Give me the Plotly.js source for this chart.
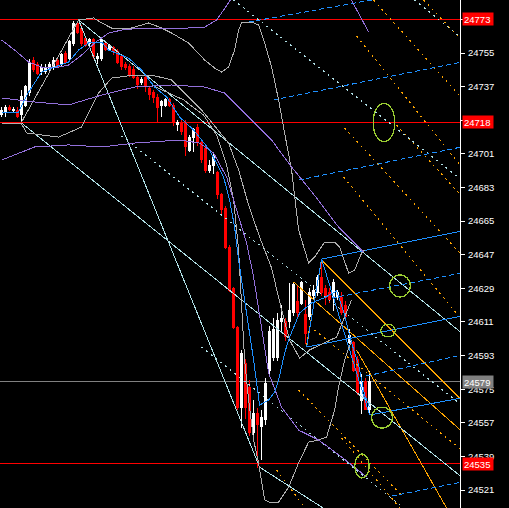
<!DOCTYPE html>
<html><head><meta charset="utf-8">
<script src="https://cdn.plot.ly/plotly-3.0.1.min.js"></script>
<style>html,body{margin:0;padding:0;background:#000;overflow:hidden}
#chart .scatterlayer path,#chart .shapelayer path,#chart .boxlayer path,#chart .yaxislayer-above path,#chart .ylines-above{shape-rendering:crispEdges}</style>
</head><body><div id="chart" style="width:509px;height:508px"></div>
<script>
// ---- candles (bar index, OHLC prices) ----
const barIdx = Array.from({length:93},(_,i)=>i);
const openP  = [24722,24723,24726,24724,24724,24722,24727,24734,24751,24749,24745,24745,24746,24747,24751,24749,24755,24752,24760,24771,24768,24763,24760,24762,24752,24752,24760,24757,24758,24756,24753,24749,24748,24746,24742,24739,24742,24736,24734,24731,24727,24727,24730,24727,24717,24718,24718,24703,24710,24715,24707,24704,24692,24695,24691,24679,24672,24651,24629,24608,24565,24589,24576,24552,24562,24555,24559,24585,24592,24592,24611,24611,24611,24616,24622,24621,24615,24614,24625,24627,24635,24629,24627,24624,24624,24624,24620,24600,24600,24591,24569,24579,24564];
const highP  = [24726,24727,24727,24726,24726,24735,24738,24752,24753,24750,24749,24749,24750,24753,24752,24755,24756,24762,24772,24772,24770,24764,24763,24763,24755,24763,24761,24760,24759,24757,24754,24750,24749,24748,24743,24742,24743,24737,24735,24733,24730,24731,24731,24728,24719,24719,24719,24711,24715,24717,24708,24705,24698,24702,24692,24680,24673,24652,24630,24609,24596,24591,24580,24569,24565,24564,24581,24609,24613,24616,24620,24613,24632,24632,24631,24633,24623,24629,24631,24636,24644,24631,24629,24634,24628,24627,24622,24607,24601,24593,24583,24581,24585];
const lowP   = [24721,24721,24724,24723,24720,24718,24726,24732,24745,24743,24743,24744,24745,24746,24747,24748,24750,24751,24759,24765,24759,24758,24759,24752,24749,24751,24756,24756,24754,24749,24746,24746,24742,24741,24736,24738,24734,24730,24728,24718,24721,24726,24726,24716,24713,24711,24700,24702,24702,24705,24696,24691,24691,24690,24677,24669,24650,24627,24607,24564,24554,24559,24550,24548,24533,24537,24556,24583,24590,24590,24605,24601,24608,24614,24613,24620,24599,24612,24623,24625,24625,24620,24621,24617,24623,24615,24612,24599,24584,24572,24562,24564,24562];
const closeP = [24724,24726,24725,24725,24721,24732,24737,24750,24746,24744,24747,24747,24749,24751,24748,24754,24750,24761,24771,24766,24760,24759,24762,24753,24753,24762,24757,24759,24756,24750,24748,24747,24743,24742,24738,24741,24737,24733,24731,24726,24729,24730,24727,24718,24718,24713,24705,24710,24714,24707,24698,24692,24695,24700,24679,24671,24651,24628,24608,24565,24594,24565,24552,24562,24556,24560,24578,24606,24607,24612,24613,24603,24617,24631,24616,24632,24605,24627,24628,24635,24627,24624,24623,24632,24627,24616,24614,24604,24585,24573,24579,24564,24579];

// ---- indicator curves (bar index, price) ----
const maFastX = [0,4.25,6.75,10,13.25,16.75,19.25,21.75,25,26.75,31.75,35,38.25,41.25,44.5,48,52,53.75,55.5,57,58.25,59.25,60.5,61.75,63,64.5,66.75,68.25,69.25,70.75,72,74.5,77.5,80.5,83.75,85.75,87.5,89.25,90.75,92];
const maFastP = [24722.9,24723.4,24734.1,24744.8,24747.5,24750.2,24756.6,24760.4,24760.9,24756.6,24752.3,24745.9,24736.8,24731.5,24720.7,24713.8,24703.1,24696.1,24688.6,24676.3,24661.8,24644.2,24626.5,24608.3,24590.6,24566.5,24569.2,24573.5,24579.9,24594.4,24602.9,24615.8,24621.2,24623.8,24627.6,24614.7,24599.7,24588.0,24571.9,24565.4];

const purpleUpX = [0,3.25,6.75,10,13.25,16.75,20,23.25,26.75,30,35,42.5,50.75,53.75,55.5,58,66,75,82,87.5,91.75];
const purpleUpP = [24762.0,24756.6,24750.2,24747.5,24747.0,24748.6,24753.9,24760.4,24765.7,24767.3,24768.4,24767.9,24768.9,24772.7,24778.0,24786.1,24805,24812,24805,24783.4,24766.3];
const purpleMidX = [0,8.25,16.75,25,33.25,42.5,50.75,55.75,59.25,63.25,67.5,72.5,78.75,84.25,90.5];
const purpleMidP = [24730.9,24728.8,24727.2,24732.5,24736.8,24737.9,24736.8,24733.6,24726.1,24717.5,24708.4,24694.0,24677.4,24661.8,24648.5];
const purpleLoX = [0,8.25,16.75,25,33.25,44.5,49.5,53,56.25,58.75,61.25,63,64.5,65.75,66.75,70,74.25,79.25,85,91.25];
const purpleLoP = [24697.7,24704.7,24705.8,24704.7,24706.8,24708.4,24706.8,24701.5,24688.6,24670.9,24653.3,24635.1,24614.7,24598.7,24583.7,24565.4,24553.1,24547.8,24538.7,24528.0];

const grayAX = [5,19.25,23,25,27.5,32.5,36.75,40,42.5,46.75,50.75,53.25,55,56.75,58.25,59.25,60,62.5,64.25,65.75,67.5,69.25,70.75,72.5,74.25,76.75,78.25,80.75,83.25,84.5,86.75,88.25,90,90.75];
const grayAP = [24718.1,24772.7,24773.8,24771.1,24768.4,24768.4,24771.1,24768.4,24765.7,24760.4,24751.3,24747.0,24744.8,24747.5,24756.6,24767.3,24771.1,24771.6,24770.0,24760.4,24747.5,24729.9,24712.2,24692.4,24660.3,24642.6,24645.8,24653.8,24653.8,24651.1,24637.2,24638.8,24647.9,24649.5];
const grayBX = [0,5,6.25,14.25,20,24.25,27.5,33.25,37.5,42.5,50,56.75,59.25,61.75,64.5,67.5,70,72,74.5,77,80.5,83.75,86.25,87.5];
const grayBP = [24717.5,24717.0,24712.2,24710.0,24715.4,24733.6,24741.6,24743.2,24743.2,24740.6,24724.5,24706.8,24692.4,24673.6,24656.5,24639.9,24617.4,24601.3,24591.7,24596.0,24599.7,24602.9,24616.3,24622.8];
const grayCX = [37.5,41.25,45.5,50.5,53.75,56.25,58,59.25,60,60.75,61.75,63,64.25,65.75,67.5,69.25,71.75,74.25,76.75,79.25,81.25,83.25,84.25,85.75,87.5];
const grayCP = [24737.9,24734.1,24729.9,24721.8,24711.1,24695.0,24676.3,24649.5,24622.8,24590.6,24569.2,24547.8,24535.5,24515.7,24514.1,24514.6,24522.6,24535.5,24546.7,24547.8,24549.4,24563.8,24576.2,24590.6,24601.3];

// ---- drawn objects: straight lines as (x0,p0)-(x1,p1) ----
const cyanX0 = [19.25,19.25,5,64.5];
const cyanP0 = [24772.7,24772.7,24717.5,24533.3];
const cyanX1 = [64.5,115,115,85];
const cyanP1 = [24533.3,24605.1,24528.0,24505.0];

const cyanDotX0 = [58,103.25,30,50];
const cyanDotP0 = [24783.4,24783.4,24710.6,24597.6];
const cyanDotX1 = [115,115,115,107.5];
const cyanDotP1 = [24687.0,24763.0,24566.5,24499.6];

const orangeDotX0 = [93,88.75,105.5,85.75,74.25,78.25,85,68.75,98.75,85.5];
const orangeDotP0 = [24783.4,24764.1,24783.4,24714.9,24574.6,24606.7,24548.9,24531.7,24716.5,24688.6];
const orangeDotX1 = [115,115,115,115,100,115,100,76.25,115,114.5];
const orangeDotP1 = [24730.9,24694.0,24762.0,24646.9,24518.3,24542.4,24510.3,24510.3,24678.4,24613.6];

const orangeX0 = [73,76.25,80,88.75];
const orangeP0 = [24632.4,24598.7,24644.2,24596.0];
const orangeX1 = [115,80,115,111.25];
const orangeP1 = [24552.6,24644.2,24569.2,24511.4];

const blueX0 = [80,76.25,92,76.25,80];
const blueP0 = [24644.7,24597.6,24561.2,24597.6,24644.7];
const blueX1 = [115,115,115,80,92];
const blueP1 = [24659.7,24614.2,24570.3,24644.7,24561.2];

const blueDashX0 = [61.75,68,74.25,82.5,91.25,97.5];
const blueDashP0 = [24771.6,24729.9,24687.0,24623.8,24582.1,24517.8];
const blueDashX1 = [92.5,115,115,115,115,115];
const blueDashP1 = [24783.4,24750.2,24704.7,24637.2,24593.3,24525.3];

// ellipses: centre bar, centre price, half-width (bars), half-height (price)
const ellCX = [95.6,99.6,96.6,95.1,90.1];
const ellCP = [24717.8,24630.3,24606.4,24559.8,24533.9];
const ellRX = [2.7,2.6,1.8,2.6,1.8];
const ellRP = [10.3,5.9,3.4,5.6,6.4];

// price levels
const levelP = [24773,24718,24535,24579];
const levelText = ['24773','24718','24535','24579'];
const levelColor = ['#FF0000','#FF0000','#FF0000','#808080'];

const tickVals = [24521,24539,24557,24575,24593,24611,24629,24647,24665,24683,24701,24719,24737,24755,24773];
const tickText = ['24521','24539','24557','24575','24593','24611','24629','24647','24665','24683','24701','','24737','24755',''];

// ---- build ----
const traces = [];
function curve(xs, ys, color, dash){
  traces.push({type:'scatter',mode:'lines',x:xs,y:ys,hoverinfo:'skip',showlegend:false,
    line:{color:color,width:1,dash:dash||'solid'}});
}
function segs(x0,p0,x1,p1,color,dash){
  for(let i=0;i<x0.length;i++) curve([x0[i],x1[i]],[p0[i],p1[i]],color,dash);
}
const CY='#B0E0E6', OR='#FFA500', BL='#1E90FF', PU='#9370DB', GR='#AFAFAF';
segs(orangeDotX0,orangeDotP0,orangeDotX1,orangeDotP1,OR,'2px,4px');
segs(orangeX0,orangeP0,orangeX1,orangeP1,OR,'solid');
segs(cyanDotX0,cyanDotP0,cyanDotX1,cyanDotP1,CY,'2px,4px');
segs(cyanX0,cyanP0,cyanX1,cyanP1,CY,'solid');
segs(blueDashX0,blueDashP0,blueDashX1,blueDashP1,BL,'5px,3px');
segs(blueX0,blueP0,blueX1,blueP1,BL,'solid');
curve(grayAX,grayAP,GR); curve(grayBX,grayBP,GR); curve(grayCX,grayCP,GR);
curve(purpleUpX,purpleUpP,PU); curve(purpleMidX,purpleMidP,PU); curve(purpleLoX,purpleLoP,PU);
traces.push({type:'candlestick',x:barIdx,open:openP,high:highP,low:lowP,close:closeP,
  increasing:{line:{color:'#FFFFFF',width:1},fillcolor:'#FFFFFF'},
  decreasing:{line:{color:'#FF0000',width:1},fillcolor:'#FF0000'},
  whiskerwidth:0,hoverinfo:'skip',showlegend:false});
curve(maFastX,maFastP,BL);

const shapes = [];
levelP.forEach((p,i)=>shapes.push({type:'line',xref:'paper',x0:0,x1:1,yref:'y',y0:p,y1:p,
  line:{color:levelColor[i],width:1},layer:'below'}));
ellCX.forEach((c,i)=>shapes.push({type:'circle',xref:'x',yref:'y',
  x0:c-ellRX[i],x1:c+ellRX[i],y0:ellCP[i]-ellRP[i],y1:ellCP[i]+ellRP[i],
  line:{color:'#9ACD32',width:1.3}}));

const annotations = levelP.map((p,i)=>({xref:'paper',x:1,xanchor:'left',xshift:2,
  yref:'y',y:p,yanchor:'middle',text:levelText[i],showarrow:false,
  bgcolor:levelColor[i],font:{color:'#FFFFFF',size:9.5,family:'Liberation Sans, Arial, sans-serif'},
  width:28,height:10,borderpad:1,align:'left'}));

const layout = {
  width:509,height:508,margin:{l:0,r:49,t:0,b:0},
  paper_bgcolor:'#000000',plot_bgcolor:'#000000',showlegend:false,boxgap:0.45,
  xaxis:{range:[-0.4,114.6],visible:false,rangeslider:{visible:false},fixedrange:true},
  yaxis:{range:[24511.4,24783.4],side:'right',tickvals:tickVals,ticktext:tickText,
    ticks:'outside',ticklen:4,tickcolor:'#FFFFFF',tickwidth:1,showgrid:false,zeroline:false,
    showline:true,linecolor:'#FFFFFF',linewidth:1,ticklabelstandoff:1,
    tickfont:{color:'#FFFFFF',size:9.5,family:'Liberation Sans, Arial, sans-serif'},fixedrange:true},
  shapes:shapes,annotations:annotations,hovermode:false
};
Plotly.newPlot('chart',traces,layout,{staticPlot:true,displayModeBar:false});
</script></body></html>
